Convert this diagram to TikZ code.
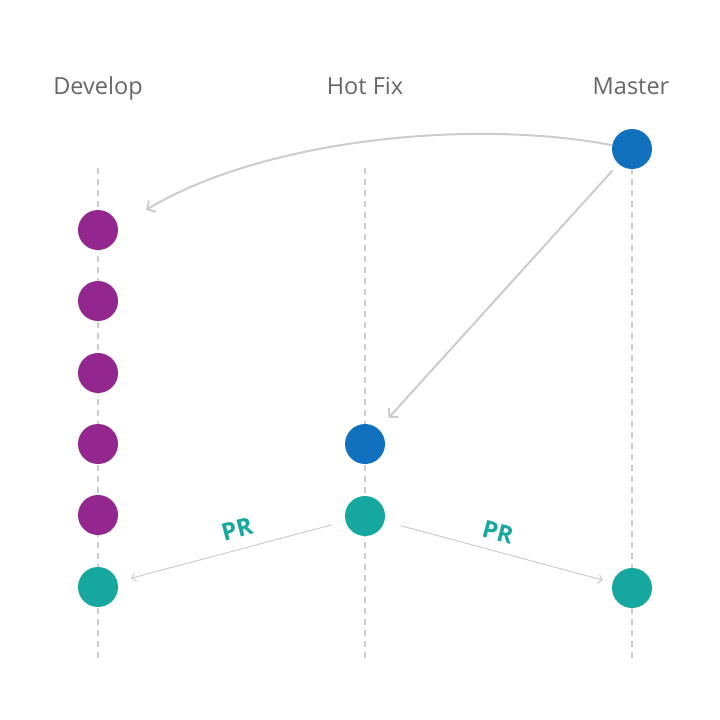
\documentclass[tikz,border=0pt]{standalone}
\usepackage{fontspec}
\setmainfont{Open Sans}
\usetikzlibrary{arrows.meta}
\definecolor{devpurple}{HTML}{93278F}
\definecolor{fixblue}{HTML}{1271BE}
\definecolor{prteal}{HTML}{16A89E}
\definecolor{lanegray}{HTML}{CCCCCC}
\definecolor{headgray}{HTML}{666666}
\begin{document}
\begin{tikzpicture}[x=1pt,y=-1pt,
  commit/.style={circle,minimum size=40pt,inner sep=0pt,fill=#1},
  lane/.style={draw=lanegray,line width=1.6pt,dash pattern=on 6pt off 5pt},
  header/.style={text=headgray,font=\fontsize{23.5}{26}\selectfont,anchor=base},
  link/.style={draw=lanegray,line width=2pt,-{Straight Barb[length=6pt,width=13pt,line width=2pt]}},
  prlink/.style={draw=lanegray,line width=1pt,-{Straight Barb[length=4pt,width=9pt,line width=1pt]}},
  prlabel/.style={text=prteal,font=\fontsize{24}{26}\selectfont\bfseries,inner sep=0pt}]
\useasboundingbox (0,0) rectangle (720,720);

% branch headings
\node[header] (hdev) at (98,94) {Develop};
\node[header] (hfix) at (365,94) {Hot Fix};
\node[header] (hmas) at (631,94) {Master};

% dashed branch lanes
\coordinate (devtop) at (98,168);  \coordinate (devbot) at (98,660);
\coordinate (fixtop) at (365,168); \coordinate (fixbot) at (365,660);
\coordinate (mastop) at (632,168); \coordinate (masbot) at (632,660);
\draw[lane] (devtop) -- (devbot);
\draw[lane] (fixtop) -- (fixbot);
\draw[lane] (mastop) -- (masbot);

% commits
\node[commit=devpurple] (d1) at (98,230) {};
\node[commit=devpurple] (d2) at (98,301) {};
\node[commit=devpurple] (d3) at (98,373) {};
\node[commit=devpurple] (d4) at (98,444) {};
\node[commit=devpurple] (d5) at (98,515) {};
\node[commit=prteal] (d6) at (98,587) {};
\node[commit=fixblue] (h1) at (365,444) {};
\node[commit=prteal] (h2) at (365,516) {};
\node[commit=fixblue] (m1) at (632,149) {};
\node[commit=prteal] (m2) at (632,588) {};

% master merged back into develop, and hot fix branched off master
\coordinate (devtip) at (146,210);
\draw[link] (m1) .. controls (470,118) and (262,140) .. (devtip);
\draw[link,shorten <=9pt,shorten >=15pt] (m1) -- (h1);

% pull requests from the hot fix
\draw[prlink,shorten <=14pt,shorten >=14pt] (h2) -- (d6);
\draw[prlink,shorten <=17pt,shorten >=10pt] (h2) -- (m2);
\node[prlabel,rotate=14.7] (prl) at (237,529) {PR};
\node[prlabel,rotate=-14.7] (prr) at (498,532) {PR};
\end{tikzpicture}
\end{document}
